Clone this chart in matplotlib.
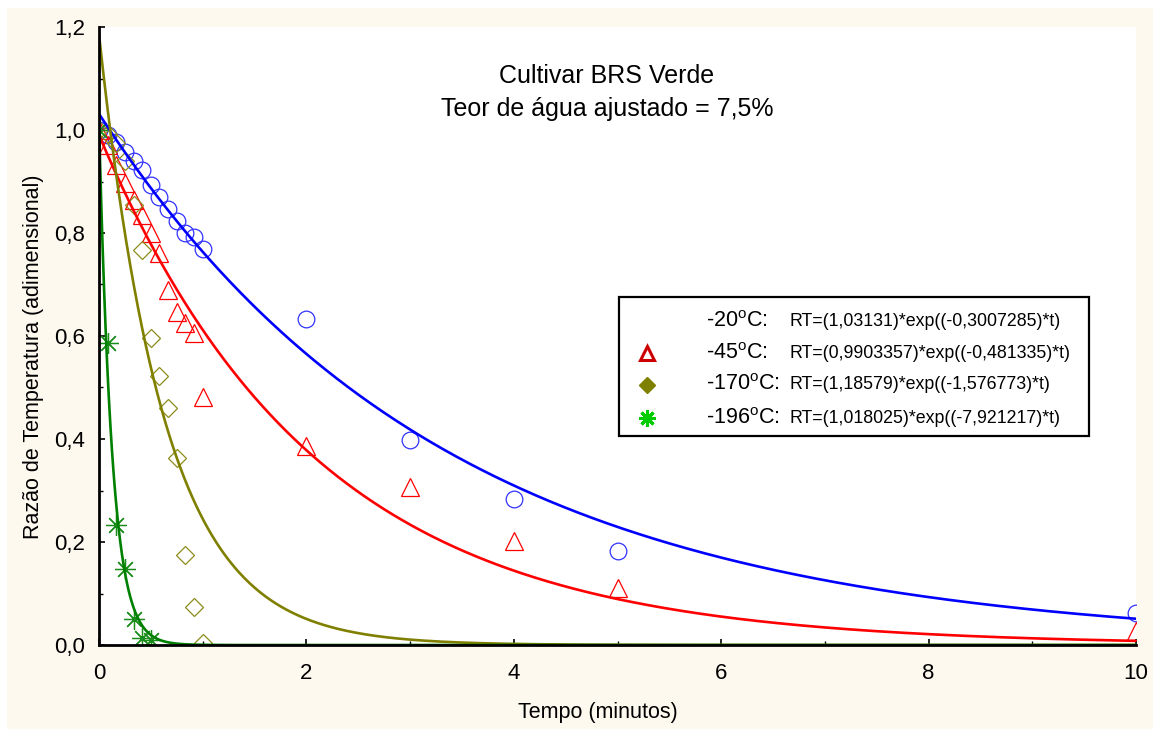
import numpy as np
import matplotlib
matplotlib.use("Agg")
from matplotlib import pyplot as plt
from matplotlib.patches import Rectangle
from matplotlib.ticker import MultipleLocator, FuncFormatter

plt.rcParams['font.family'] = ['Liberation Sans', 'DejaVu Sans']
plt.rcParams['mathtext.fontset'] = 'custom'
plt.rcParams['mathtext.rm'] = 'Liberation Sans'

# times: every 5 s during the first minute, then 2, 3, 4, 5, 10 min
t_short = [k / 12 for k in range(13)]
t_long = [2, 3, 4, 5, 10]

# -20 C
t_20 = t_short + t_long
rt_20 = [1.0, 0.99, 0.977, 0.957, 0.94, 0.922, 0.893, 0.87, 0.846, 0.824, 0.80, 0.792, 0.768,
         0.633, 0.399, 0.283, 0.182, 0.063]
# -45 C
t_45 = t_short + t_long
rt_45 = [1.0, 0.97, 0.932, 0.897, 0.864, 0.834, 0.80, 0.761, 0.689, 0.646, 0.626, 0.606, 0.482,
         0.387, 0.307, 0.202, 0.11, 0.028]
# -170 C
t_170 = t_short
rt_170 = [1.0, 0.993, 0.975, 0.94, 0.854, 0.767, 0.597, 0.522, 0.46, 0.363, 0.175, 0.074, 0.004]
# -196 C
t_196 = t_short[:7]
rt_196 = [1.0, 0.586, 0.233, 0.148, 0.05, 0.014, 0.01]

# fitted model RT = a*exp(b*t)
fit_a = [1.03131, 0.9903357, 1.18579, 1.018025]
fit_b = [-0.3007285, -0.481335, -1.576773, -7.921217]
temps = ['-20', '-45', '-170', '-196']
eq_text = ['RT=(1,03131)*exp((-0,3007285)*t)',
           'RT=(0,9903357)*exp((-0,481335)*t)',
           'RT=(1,18579)*exp((-1,576773)*t)',
           'RT=(1,018025)*exp((-7,921217)*t)']

fig = plt.figure(figsize=(11.53, 7.30), dpi=100)
fig.patch.set_facecolor('white')
fig.patches.append(Rectangle((7 / 1153, 1 / 730), 1 - 7 / 1153, 721 / 730,
                             transform=fig.transFigure, facecolor='#fdf9ef',
                             edgecolor='none', zorder=-10))
ax = fig.add_axes([99 / 1153, 85 / 730, 1037 / 1153, 618 / 730])
ax.set_facecolor('white')

ms_kw = dict(linestyle='none', markerfacecolor='none', zorder=2)
ax.plot(t_20, rt_20, marker='o', markersize=12, markeredgecolor='#3232ff', markeredgewidth=0.9, **ms_kw)
ax.plot(t_45, rt_45, marker='^', markersize=12.5, markeredgecolor='#ff0000', markeredgewidth=0.9, **ms_kw)
ax.plot(t_170, rt_170, marker='D', markersize=9, markeredgecolor='#8c8c1a', markeredgewidth=0.9, **ms_kw)
ax.plot(t_196, rt_196, marker=(8, 2, 0), markersize=15, markeredgecolor='#1a8c1a', markeredgewidth=0.9, **ms_kw)

tt = np.linspace(0, 10, 800)
line_colors = ['#0000ff', '#ff0000', '#808000', '#008000']
for a, b, c in zip(fit_a, fit_b, line_colors):
    ax.plot(tt, a * np.exp(b * tt), color=c, linewidth=1.9, zorder=3)

ax.set_xlim(0, 10)
ax.set_ylim(0, 1.2)
ax.spines['top'].set_visible(False)
ax.spines['right'].set_visible(False)
ax.spines['left'].set_linewidth(2)
ax.spines['bottom'].set_linewidth(2)
ax.spines['left'].set_zorder(5)
ax.spines['bottom'].set_zorder(5)

ax.xaxis.set_major_locator(MultipleLocator(2))
ax.xaxis.set_minor_locator(MultipleLocator(1))
ax.yaxis.set_major_locator(MultipleLocator(0.2))
ax.yaxis.set_minor_locator(MultipleLocator(0.1))
ax.yaxis.set_major_formatter(FuncFormatter(lambda v, p: f'{v:.1f}'.replace('.', ',')))
ax.tick_params(which='major', direction='in', length=4, width=1.2, labelsize=16, colors='black')
ax.tick_params(axis='x', which='major', pad=13)
ax.tick_params(axis='y', which='major', pad=10)
ax.tick_params(which='minor', direction='in', length=3, width=1)

ax.set_xlabel('Tempo (minutos)', fontsize=15.5)
ax.set_ylabel('Razão de Temperatura (adimensional)', fontsize=15.5)
ax.xaxis.set_label_coords(0.481, -0.093)
ax.yaxis.set_label_coords(-0.053, 0.466)

fig.text(607 / 1153, 1 - 76 / 730, 'Cultivar BRS Verde', fontsize=18, ha='center', va='center')
fig.text(607 / 1153, 1 - 109 / 730, 'Teor de água ajustado = 7,5%', fontsize=18, ha='center', va='center')

# legend box drawn by hand
ax.add_patch(Rectangle((0.501, 0.338), 0.454, 0.225, transform=ax.transAxes,
                       facecolor='white', edgecolor='black', linewidth=1.6, zorder=6))
rows_y = [0.524, 0.472, 0.421, 0.367]
leg_markers = [None,
               dict(marker='^', markersize=10, markerfacecolor='white', markeredgecolor='#cc0000', markeredgewidth=2.2),
               dict(marker='D', markersize=8, markerfacecolor='#808000', markeredgecolor='#808000'),
               dict(marker=(8, 2, 0), markersize=12, markeredgecolor='#00cc00', markeredgewidth=2.2)]
for y, temp, eq, mk in zip(rows_y, temps, eq_text, leg_markers):
    if mk is not None:
        ax.plot([0.528], [y], transform=ax.transAxes, clip_on=False, zorder=7, linestyle='none', **mk)
    ax.text(0.585, y, temp + r'$^{\mathrm{o}}$C:', transform=ax.transAxes, fontsize=15.5,
            va='center', ha='left', zorder=7)
    ax.text(0.666, y, eq, transform=ax.transAxes, fontsize=12.8, va='center', ha='left', zorder=7)

fig.savefig('out.png', dpi=100)
